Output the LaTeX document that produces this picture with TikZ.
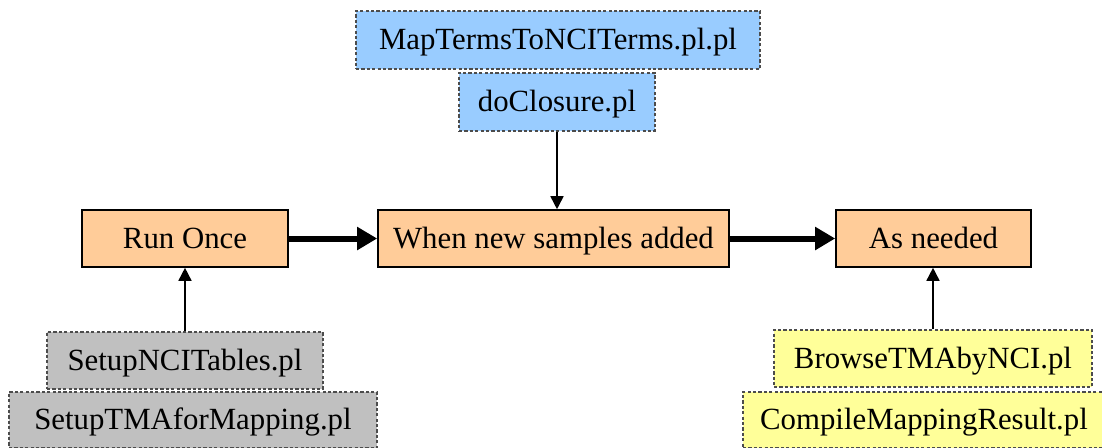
\documentclass[tikz,border=0pt]{standalone}
\usepackage{fontspec}
\setmainfont{Liberation Serif}
\usetikzlibrary{arrows.meta}
\definecolor{stagefill}{RGB}{255,204,153}
\definecolor{bluefill}{RGB}{153,204,255}
\definecolor{grayfill}{RGB}{192,192,192}
\definecolor{yellowfill}{RGB}{255,255,153}
\tikzset{
     stage/.style={rectangle, draw=black, line width=0.8pt, fill=stagefill,
                   inner sep=0pt, text height=12.5pt, text depth=3pt, minimum height=28.5pt},
     script/.style={rectangle, draw=black!70, dash pattern=on 1.6pt off 1.1pt,
                   line width=0.6pt, inner sep=0pt, text height=12.5pt, text depth=3pt,
                   minimum height=28.5pt},
     flow/.style={line width=3pt, -{Triangle[length=10pt,width=11pt]}},
     feed/.style={line width=0.8pt, -{Triangle[length=6.5pt,width=6.5pt]}}
     }
\begin{document}
\begin{tikzpicture}[x=0.5pt, y=-0.5pt, font=\fontsize{15.4}{18}\selectfont]
    \useasboundingbox (0,0) rectangle (1102,447);
    \node [stage, minimum width=103pt] (once) at (185,238.5) {Run Once};
    \node [stage, minimum width=175.5pt] (added) at (553.5,238.5) {When new samples added};
    \node [stage, minimum width=97.5pt] (needed) at (933.5,238.5) {As needed};

    \node [script, fill=bluefill, minimum width=202pt, minimum height=29pt] (mapterms) at (558,40) {MapTermsToNCITerms.pl.pl};
    \node [script, fill=bluefill, minimum width=98pt, minimum height=29pt] (closure) at (557,102) {doClosure.pl};

    \node [script, fill=grayfill, minimum width=138pt] (ncitables) at (185,360.5) {SetupNCITables.pl};
    \node [script, fill=grayfill, minimum width=184pt, minimum height=28pt] (tmamapping) at (193,420) {SetupTMAforMapping.pl};

    \node [script, fill=yellowfill, minimum width=159pt] (browse) at (933,358.5) {BrowseTMAbyNCI.pl};
    \node [script, fill=yellowfill, minimum width=181pt, minimum height=28pt] (compile) at (924,420) {CompileMappingResult.pl};

    \draw [flow] (once) -- (added);
    \draw [flow] (added) -- (needed);
    \draw [feed] (closure.south) -- (closure.south |- added.north);
    \draw [feed] (ncitables.north) -- (once.south);
    \draw [feed] (browse.north) -- (browse.north |- needed.south);
\end{tikzpicture}
\end{document}
